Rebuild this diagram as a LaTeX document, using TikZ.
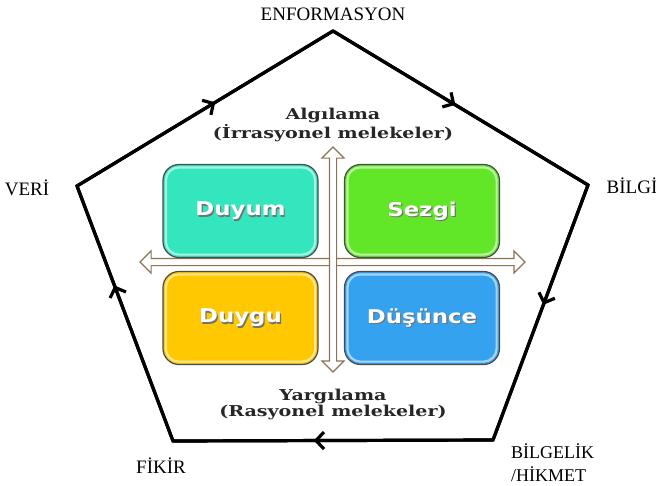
\documentclass[tikz,border=0pt]{standalone}
\usepackage{fontspec}
\setmainfont{Liberation Serif}
\newfontfamily\boxfont{DejaVu Sans}
\newfontfamily\headfont{DejaVu Serif}
\usetikzlibrary{arrows.meta,decorations.markings,shapes.arrows}

\definecolor{duyumc}{HTML}{33E6BE}
\definecolor{sezgic}{HTML}{62E628}
\definecolor{duyguc}{HTML}{FFC800}
\definecolor{dusuncec}{HTML}{35A2F0}
\definecolor{axisc}{HTML}{8C7355}
\definecolor{rimc}{HTML}{4A4A4A}

\begin{document}
\begin{tikzpicture}[x=1pt,y=-1pt,
  cornerlabel/.style={font=\fontsize{19}{21}\selectfont, inner sep=0pt},
  headlabel/.style={font=\headfont\bfseries\fontsize{15}{16}\selectfont, xscale=1.27,
                    align=center, inner sep=0pt, text=black!85},
  edge/.style={line width=3.2pt, line join=miter},
  midarrow/.style={postaction={decorate, decoration={markings,
      mark=at position #1 with {\arrow{Straight Barb[length=8pt,width=17pt]}}}}},
  axis/.style={double arrow, draw=axisc, fill=white, line width=1.1pt,
               inner sep=3pt, double arrow head extend=7.5pt, anchor=center},
  qbox/.style={rounded corners=16pt, draw=rimc, line width=1.2pt,
               minimum width=155pt, minimum height=93pt, inner sep=0pt},
  rim/.style={rounded corners=13pt, line width=2.2pt, draw=#1!45!white},
  boxtext/.style={font=\boxfont\bfseries\fontsize{19}{21}\selectfont, xscale=1.2,
                  text=white, inner sep=0pt},
  boxshade/.style={font=\boxfont\bfseries\fontsize{19}{21}\selectfont, xscale=1.2,
                   text=black!55, inner sep=0pt}
]
\useasboundingbox (0,0) rectangle (656,485);

% pentagon corners
\coordinate (vleft)  at (77,186);
\coordinate (vtop)   at (333,31);
\coordinate (vright) at (588,185);
\coordinate (vbr)    at (493,440);
\coordinate (vbl)    at (173,441);

% outer cycle
\draw[edge] (vleft) -- (vtop) -- (vright) -- (vbr) -- (vbl) -- cycle;
\draw[edge, midarrow=0.54] (vleft) -- (vtop);
\draw[edge, midarrow=0.48] (vtop) -- (vright);
\draw[edge, midarrow=0.47] (vright) -- (vbr);
\draw[edge, midarrow=0.56] (vbr) -- (vbl);
\draw[edge, midarrow=0.61] (vbl) -- (vleft);

% corner labels
\node[cornerlabel] (enf)   at (333,14)  {ENFORMASYON};
\node[cornerlabel] (veri)  at (27,188)  {VERİ};
\node[cornerlabel] (bilgi) at (632,186) {BİLGİ};
\node[cornerlabel] (fikir) at (161,466) {FİKİR};
\node[cornerlabel, align=left, anchor=west, font=\fontsize{18}{23}\selectfont]
     (bilgelik) at (511,463) {BİLGELİK\\/HİKMET};

% axes
\node[axis, minimum height=385pt] (haxis) at (332.5,262) {};
\node[axis, minimum height=225pt, rotate=90] (vaxis) at (333,259.5) {};

% axis captions
\node[headlabel] (alg) at (333,125) {Algılama\\(İrrasyonel melekeler)};
\node[headlabel] (yar) at (333,404) {Yargılama\\(Rasyonel melekeler)};

% quadrant boxes
\node[qbox, fill=duyumc]   (duyum)   at (240.5,211) {};
\node[qbox, fill=sezgic]   (sezgi)   at (422,211)   {};
\node[qbox, fill=duyguc]   (duygu)   at (240.5,318) {};
\node[qbox, fill=dusuncec] (dusunce) at (422,318)   {};

\foreach \b/\c in {duyum/duyumc, sezgi/sezgic, duygu/duyguc, dusunce/dusuncec}
  \draw[rim=\c] ([shift={(3.5,3.5)}]\b.north west) rectangle ([shift={(-3.5,-3.5)}]\b.south east);

\foreach \b/\t in {duyum/Duyum, sezgi/Sezgi, duygu/Duygu, dusunce/Düşünce}{
  \node[boxshade] (\b-shade) at ([shift={(1.2,1.2)}]\b.center) {\t};
  \node[boxtext]  (\b-text)  at (\b.center) {\t};
}
\end{tikzpicture}
\end{document}
